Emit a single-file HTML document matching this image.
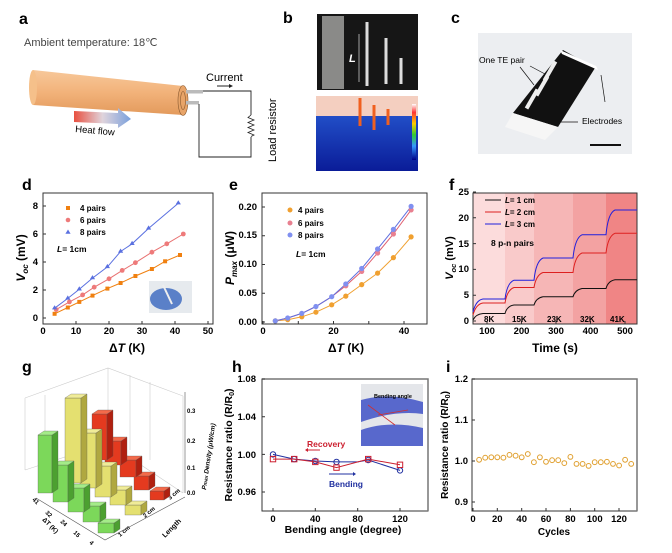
<!DOCTYPE html>
<html><head><meta charset="utf-8"><style>
body{margin:0;background:#fff}
svg{display:block;font-family:"Liberation Sans",Arial,sans-serif}
.b{font-weight:bold}
</style></head><body>
<svg width="672" height="553" viewBox="0 0 672 553" xmlns="http://www.w3.org/2000/svg">
<defs>
<linearGradient id="cyl" x1="0" y1="0" x2="0" y2="1"><stop offset="0" stop-color="#f7c89a"/><stop offset="0.5" stop-color="#f2b27a"/><stop offset="1" stop-color="#e39a5c"/></linearGradient>
<linearGradient id="heat" x1="0" y1="0" x2="1" y2="0"><stop offset="0" stop-color="#e85040"/><stop offset="0.5" stop-color="#e0d4dc"/><stop offset="1" stop-color="#7aa0dc"/></linearGradient>
<linearGradient id="ir" x1="0" y1="0" x2="0" y2="1"><stop offset="0" stop-color="#2a60d8"/><stop offset="1" stop-color="#0a1c98"/></linearGradient>
<linearGradient id="cb" x1="0" y1="0" x2="0" y2="1"><stop offset="0" stop-color="#fff"/><stop offset="0.15" stop-color="#f33"/><stop offset="0.35" stop-color="#fc0"/><stop offset="0.55" stop-color="#3c3"/><stop offset="0.75" stop-color="#39f"/><stop offset="1" stop-color="#008"/></linearGradient>
</defs>
<g class="b" font-size="16">
<text x="19" y="24">a</text><text x="283" y="23">b</text><text x="451" y="23">c</text>
<text x="22" y="190">d</text><text x="229" y="190">e</text><text x="449" y="190">f</text>
<text x="22" y="372">g</text><text x="232" y="372">h</text><text x="446" y="372">i</text>
</g>
<!-- panel a -->
<text x="24" y="46" font-size="11" fill="#444">Ambient temperature: 18℃</text>
<path d="M33 70 L183 86 L183 115 L33 105 Z" fill="url(#cyl)"/>
<ellipse cx="33" cy="87.5" rx="4" ry="17.5" fill="#f5c08a"/>
<ellipse cx="183" cy="100.5" rx="5" ry="15" fill="#e8a468" stroke="#8a5a30" stroke-width="0.6"/>
<ellipse cx="183" cy="100.5" rx="2.5" ry="9" fill="none" stroke="#8a5a30" stroke-width="0.6"/>
<rect x="186" y="90" width="17" height="3.5" fill="#bbb"/><rect x="186" y="101" width="13" height="3.5" fill="#bbb"/>
<path d="M203 91 H251 V115 M251 137 V157 H199 V104" fill="none" stroke="#222" stroke-width="0.9"/>
<path d="M251 115 l-3 2.5 6 2.5 -6 2.5 6 2.5 -6 2.5 6 2.5 -6 2.5 6 2.5 -3 1.5" fill="none" stroke="#222" stroke-width="0.8"/>
<text x="206" y="81" font-size="11">Current</text>
<path d="M217 86 h12" stroke="#222"/><path d="M229 84 l4 2 -4 2z" fill="#222"/>
<text transform="translate(276,162) rotate(-90)" font-size="11">Load resistor</text>
<path d="M74 111 L118 113 L118 108 L131 119 L118 128 L118 124 L74 122 Z" fill="url(#heat)"/>
<text x="75" y="132" font-size="9.5" transform="rotate(5 75 132)">Heat flow</text>
<!-- panel b -->
<rect x="317" y="14" width="101" height="76" fill="#161616"/>
<rect x="322" y="16" width="22" height="73" fill="#8a8a88"/>
<path d="M367 22 V86 M386 38 V84 M401 58 V84" stroke="#ddd" stroke-width="3"/>
<path d="M359 34 V82" stroke="#ddd" stroke-width="0.7"/>
<text x="349" y="62" font-size="11" fill="#fff" font-style="italic" class="b">L</text>
<rect x="316" y="96" width="102" height="75" fill="url(#ir)"/>
<rect x="316" y="96" width="102" height="20" fill="#f4cfc0"/>
<rect x="412" y="104" width="4" height="56" fill="url(#cb)"/>
<path d="M360 98 V126 M374 105 V130 M388 109 V125" stroke="#f06020" stroke-width="3"/>
<!-- panel c -->
<rect x="478" y="33" width="154" height="121" fill="#eceef1"/>
<path d="M563 50 L595 68 L558 127 L513 113 Z" fill="#111"/>
<path d="M513 113 L505 127 L545 140 L558 127Z" fill="#f6f6f6"/>
<path d="M560 50 L596 66 L598 70 L562 54Z" fill="#fff"/>
<g fill="#eee"><rect x="548" y="60" width="4" height="22" transform="rotate(30 550 71)"/><rect x="540" y="75" width="4" height="22" transform="rotate(30 542 86)"/><rect x="530" y="88" width="4" height="22" transform="rotate(30 532 99)"/></g>
<text x="479" y="63" font-size="8.5">One TE pair</text>
<text x="582" y="124" font-size="8.5">Electrodes</text>
<path d="M560 122 H578 M601 75 L605 102 M520 67 L534 85 M530 66 L545 74" stroke="#111" stroke-width="0.7"/>
<rect x="590" y="144" width="31" height="2" fill="#111"/>

<!-- panel d -->
<g font-size="10" class="b">
<rect x="43" y="193" width="170" height="131" fill="none" stroke="#333"/>
<g stroke="#333"><path d="M43 324v-3M76 324v-3M109 324v-3M142 324v-3M175 324v-3M208 324v-3M43 318h3M43 290h3M43 262h3M43 234h3M43 206h3"/></g>
<g font-size="9.5" text-anchor="middle"><text x="43" y="334">0</text><text x="76" y="334">10</text><text x="109" y="334">20</text><text x="142" y="334">30</text><text x="175" y="334">40</text><text x="208" y="334">50</text></g>
<g font-size="9.5" text-anchor="end"><text x="38" y="321">0</text><text x="38" y="293">2</text><text x="38" y="265">4</text><text x="38" y="237">6</text><text x="38" y="209">8</text></g>
<text x="127" y="352" text-anchor="middle" font-size="12">Δ<tspan font-style="italic">T</tspan> (K)</text>
<text transform="translate(25,258) rotate(-90)" text-anchor="middle" font-size="12"><tspan font-style="italic">V</tspan><tspan font-size="8" font-style="italic" dy="3">oc</tspan><tspan dy="-3"> (mV)</tspan></text>
<rect x="149" y="281" width="43" height="32" fill="#e6eaee"/><ellipse cx="166" cy="299" rx="16" ry="11" fill="#5a80c8"/><path d="M163 285 L172 304" stroke="#eee" stroke-width="2"/>
<polyline points="54.6,313.8 67.8,307.5 79.3,301.9 92.5,295.6 107.4,288.6 120.6,283 135.4,276 151.9,269 165.1,261.3 180,255" fill="none" stroke="#f08010"/>
<g fill="#f08010"><rect x="52.6" y="311.8" width="4" height="4"/><rect x="65.8" y="305.5" width="4" height="4"/><rect x="77.3" y="299.9" width="4" height="4"/><rect x="90.5" y="293.6" width="4" height="4"/><rect x="105.4" y="286.6" width="4" height="4"/><rect x="118.6" y="281" width="4" height="4"/><rect x="133.4" y="274" width="4" height="4"/><rect x="149.9" y="267" width="4" height="4"/><rect x="163.1" y="259.3" width="4" height="4"/><rect x="178" y="253" width="4" height="4"/></g>
<polyline points="56.2,309.6 69.4,301.9 82.6,294.9 94.2,287.2 109,278.8 122.2,270.4 135.4,262.7 151.9,252.2 166.8,243.8 183.3,234" fill="none" stroke="#e87070"/>
<g fill="#ee7a7a"><circle cx="56.2" cy="309.6" r="2.4"/><circle cx="69.4" cy="301.9" r="2.4"/><circle cx="82.6" cy="294.9" r="2.4"/><circle cx="94.2" cy="287.2" r="2.4"/><circle cx="109" cy="278.8" r="2.4"/><circle cx="122.2" cy="270.4" r="2.4"/><circle cx="135.4" cy="262.7" r="2.4"/><circle cx="151.9" cy="252.2" r="2.4"/><circle cx="166.8" cy="243.8" r="2.4"/><circle cx="183.3" cy="234" r="2.4"/></g>
<polyline points="54.6,308.2 67.8,298.4 79.3,289.3 92.5,278.1 107.4,266.9 120.6,251.5 132.1,243.8 148.6,228.4 178.3,203.2" fill="none" stroke="#5a70e0"/>
<g fill="#5a70e0"><path d="M54.6 305.2l2.6 4.2h-5.2z M67.8 295.4l2.6 4.2h-5.2z M79.3 286.3l2.6 4.2h-5.2z M92.5 275.1l2.6 4.2h-5.2z M107.4 263.9l2.6 4.2h-5.2z M120.6 248.5l2.6 4.2h-5.2z M132.1 240.8l2.6 4.2h-5.2z M148.6 225.4l2.6 4.2h-5.2z M178.3 200.2l2.6 4.2h-5.2z"/></g>
<g font-size="8"><rect x="66" y="206" width="4" height="4" fill="#f08010"/><text x="80" y="211">4 pairs</text>
<circle cx="68" cy="220" r="2.3" fill="#ee7a7a"/><text x="80" y="223">6 pairs</text>
<path d="M68 229.5l2.6 4.2h-5.2z" fill="#5a70e0"/><text x="80" y="235">8 pairs</text>
<text x="57" y="252" font-size="8.5"><tspan font-style="italic">L</tspan>= 1cm</text></g>
</g>

<!-- panel e -->
<g font-size="10" class="b">
<rect x="262" y="193" width="165" height="131" fill="none" stroke="#333"/>
<g stroke="#333"><path d="M263 324v-3M298.3 324v-3M333.5 324v-3M368.8 324v-3M404 324v-3M262 322h3M262 293.3h3M262 264.5h3M262 235.8h3M262 207h3"/></g>
<g font-size="9.5" text-anchor="middle"><text x="263" y="334">0</text><text x="333.5" y="334">20</text><text x="404" y="334">40</text></g>
<g font-size="9.5" text-anchor="end"><text x="257" y="325">0.00</text><text x="257" y="296">0.05</text><text x="257" y="267">0.10</text><text x="257" y="238">0.15</text><text x="257" y="210">0.20</text></g>
<text x="346" y="352" text-anchor="middle" font-size="12">Δ<tspan font-style="italic">T</tspan> (K)</text>
<text transform="translate(234,258) rotate(-90)" text-anchor="middle" font-size="12"><tspan font-style="italic">P</tspan><tspan font-size="8" font-style="italic" dy="3">max</tspan><tspan dy="-3"> (μW)</tspan></text>
<polyline points="275.3,320.9 287.7,319.7 301.8,316.8 315.9,312.2 331.7,304.8 345.8,296.1 361.7,284.6 377.6,273.1 393.4,257.6 411.1,236.9" fill="none" stroke="#f0a030"/>
<polyline points="275.3,320.9 287.7,318 301.8,313.4 315.9,306.5 331.7,296.7 345.8,285.8 361.7,271.4 377.6,253 393.4,234 411.1,209.9" fill="none" stroke="#e06070"/>
<polyline points="275.3,320.9 287.7,318 301.8,313.4 315.9,306.5 331.7,296.7 345.8,284 361.7,268.5 377.6,249 393.4,229.4 411.1,206.4" fill="none" stroke="#6070e0"/>
<g fill="#f0a030"><circle cx="275.3" cy="320.9" r="2.6"/><circle cx="287.7" cy="319.7" r="2.6"/><circle cx="301.8" cy="316.8" r="2.6"/><circle cx="315.9" cy="312.2" r="2.6"/><circle cx="331.7" cy="304.8" r="2.6"/><circle cx="345.8" cy="296.1" r="2.6"/><circle cx="361.7" cy="284.6" r="2.6"/><circle cx="377.6" cy="273.1" r="2.6"/><circle cx="393.4" cy="257.6" r="2.6"/><circle cx="411.1" cy="236.9" r="2.6"/></g>
<g fill="#e88090"><circle cx="345.8" cy="285.8" r="2.6"/><circle cx="361.7" cy="271.4" r="2.6"/><circle cx="377.6" cy="253" r="2.6"/><circle cx="393.4" cy="234" r="2.6"/><circle cx="411.1" cy="209.9" r="2.6"/></g>
<g fill="#8090f0"><circle cx="275.3" cy="320.9" r="2.6"/><circle cx="287.7" cy="318" r="2.6"/><circle cx="301.8" cy="313.4" r="2.6"/><circle cx="315.9" cy="306.5" r="2.6"/><circle cx="331.7" cy="296.7" r="2.6"/><circle cx="345.8" cy="284" r="2.6"/><circle cx="361.7" cy="268.5" r="2.6"/><circle cx="377.6" cy="249" r="2.6"/><circle cx="393.4" cy="229.4" r="2.6"/><circle cx="411.1" cy="206.4" r="2.6"/></g>
<g font-size="8"><circle cx="290" cy="210" r="2.5" fill="#f0a030"/><text x="298" y="213">4 pairs</text>
<circle cx="290" cy="223" r="2.5" fill="#e88090"/><text x="298" y="226">6 pairs</text>
<circle cx="290" cy="235" r="2.5" fill="#8090f0"/><text x="298" y="238">8 pairs</text>
<text x="296" y="257" font-size="8.5"><tspan font-style="italic">L</tspan>= 1cm</text></g>
</g>

<!-- panel f -->
<g font-size="10" class="b">
<rect x="473" y="193" width="32" height="131" fill="#fcdcdc"/>
<rect x="505" y="193" width="29" height="131" fill="#f9caca"/>
<rect x="534" y="193" width="39" height="131" fill="#f6b6b6"/>
<rect x="573" y="193" width="33" height="131" fill="#f3a2a2"/>
<rect x="606" y="193" width="31" height="131" fill="#f08585"/>
<rect x="473" y="193" width="164" height="131" fill="none" stroke="#333"/>
<g stroke="#333"><path d="M487 324v-3M521.5 324v-3M556 324v-3M590.5 324v-3M625 324v-3M473 321h3M473 295.2h3M473 269.4h3M473 243.6h3M473 217.8h3M473 192h3"/></g>
<g font-size="9.5" text-anchor="middle"><text x="487" y="334">100</text><text x="521.5" y="334">200</text><text x="556" y="334">300</text><text x="590.5" y="334">400</text><text x="625" y="334">500</text></g>
<g font-size="9.5" text-anchor="end"><text x="469" y="324">0</text><text x="469" y="298">5</text><text x="469" y="272">10</text><text x="469" y="247">15</text><text x="469" y="221">20</text><text x="469" y="195">25</text></g>
<text x="555" y="352" text-anchor="middle" font-size="12">Time (s)</text>
<text transform="translate(453,258) rotate(-90)" text-anchor="middle" font-size="11"><tspan font-style="italic">V</tspan><tspan font-size="7.5" font-style="italic" dy="3">oc</tspan><tspan dy="-3"> (mV)</tspan></text>
<path d="M473 320 Q476 314 483 313.5 H505 Q507 306 514 305 H534 Q536 298 543 296.7 H573 Q575 290 582 288.5 H606 Q608 281 615 279.7 H637" fill="none" stroke="#111"/>
<path d="M473 315 Q476 304 483 303 H505 Q507 290 514 287.5 H534 Q536 275 543 272.5 H573 Q575 256 582 253 H606 Q608 236 615 233.3 H637" fill="none" stroke="#dd2020"/>
<path d="M473 312 Q476 300 483 299 H505 Q507 283 514 280.2 H534 Q536 261 543 258 H573 Q575 238 582 234.8 H606 Q608 213 615 210 H637" fill="none" stroke="#2020dd"/>
<g font-size="8"><path d="M485 200h16" stroke="#111"/><text x="505" y="203"><tspan font-style="italic">L</tspan>= 1 cm</text>
<path d="M485 212h16" stroke="#dd2020"/><text x="505" y="215"><tspan font-style="italic">L</tspan>= 2 cm</text>
<path d="M485 224h16" stroke="#2020dd"/><text x="505" y="227"><tspan font-style="italic">L</tspan>= 3 cm</text>
<text x="491" y="246" font-size="8.5">8 p-n pairs</text>
<text x="484" y="322">8K</text><text x="512" y="322">15K</text><text x="547" y="322">23K</text><text x="580" y="322">32K</text><text x="610" y="322">41K</text></g>
</g>

<!-- panel g -->
<g stroke="#ccc" stroke-width="0.6" fill="none">
<path d="M25 398 L108 368 L183 396 M108 368 V443 M25 398 V470 M183 396 V493 M25 470 L108 443 L183 493 M45 395 V468 M130 375 V450 M150 382 V460"/>
</g>
<path d="M185 493 L185 392" stroke="#555" stroke-width="0.6"/>
<g font-size="6" class="b"><text x="187" y="495">0.0</text><text x="187" y="470">0.1</text><text x="187" y="443">0.2</text><text x="187" y="413">0.3</text></g>
<text transform="translate(206,490) rotate(-82)" font-size="6.5" class="b" font-style="italic"><tspan>P</tspan><tspan font-size="5">max</tspan> Density (μW/cm)</text>
<g font-size="6" class="b">
<text transform="translate(32,500) rotate(45)">41</text><text transform="translate(45,513) rotate(45)">32</text><text transform="translate(60,522) rotate(45)">24</text><text transform="translate(73,533) rotate(45)">15</text><text transform="translate(89,543) rotate(45)">4</text>
<text transform="translate(42,520) rotate(45)" font-size="6.5">ΔT (K)</text>
<text transform="translate(120,537) rotate(-40)">1 cm</text><text transform="translate(145,518) rotate(-40)">2 cm</text><text transform="translate(170,500) rotate(-40)">3 cm</text>
<text transform="translate(165,538) rotate(-45)" font-size="7">Length</text>
</g>
<path d="M36 498 L105 540 L185 497" stroke="#555" stroke-width="0.6" fill="none"/>
<g stroke="#555" stroke-width="0.3">
<g><rect x="150" y="491" width="14" height="9" fill="#e43a1f"/><path d="M164 491 l6 -4 v9 l-6 4z" fill="#b02010"/><path d="M150 491 l6 -4 h14 l-6 4z" fill="#f46a4a"/></g>
<g><rect x="134" y="476" width="15" height="14" fill="#e43a1f"/><path d="M149 476 l6 -4 v14 l-6 4z" fill="#b02010"/><path d="M134 476 l6 -4 h15 l-6 4z" fill="#f46a4a"/></g>
<g><rect x="120" y="460" width="16" height="17" fill="#e43a1f"/><path d="M136 460 l6 -4 v17 l-6 4z" fill="#b02010"/><path d="M120 460 l6 -4 h16 l-6 4z" fill="#f46a4a"/></g>
<g><rect x="105" y="441" width="16" height="24" fill="#e43a1f"/><path d="M121 441 l6 -4 v24 l-6 4z" fill="#b02010"/><path d="M105 441 l6 -4 h16 l-6 4z" fill="#f46a4a"/></g>
<g><rect x="92" y="414" width="15" height="46" fill="#e43a1f"/><path d="M107 414 l6 -4 v46 l-6 4z" fill="#b02010"/><path d="M92 414 l6 -4 h15 l-6 4z" fill="#f46a4a"/></g>
<g><rect x="125" y="505" width="16" height="10" fill="#e4e070"/><path d="M141 505 l6 -4 v10 l-6 4z" fill="#b0a840"/><path d="M125 505 l6 -4 h16 l-6 4z" fill="#f0ec98"/></g>
<g><rect x="110" y="490" width="16" height="15" fill="#e4e070"/><path d="M126 490 l6 -4 v15 l-6 4z" fill="#b0a840"/><path d="M110 490 l6 -4 h16 l-6 4z" fill="#f0ec98"/></g>
<g><rect x="95" y="466" width="16" height="31" fill="#e4e070"/><path d="M111 466 l6 -4 v31 l-6 4z" fill="#b0a840"/><path d="M95 466 l6 -4 h16 l-6 4z" fill="#f0ec98"/></g>
<g><rect x="80" y="433" width="16" height="55" fill="#e4e070"/><path d="M96 433 l6 -4 v55 l-6 4z" fill="#b0a840"/><path d="M80 433 l6 -4 h16 l-6 4z" fill="#f0ec98"/></g>
<g><rect x="65" y="398" width="16" height="85" fill="#e4e070"/><path d="M81 398 l6 -4 v85 l-6 4z" fill="#b0a840"/><path d="M65 398 l6 -4 h16 l-6 4z" fill="#f0ec98"/></g>
<g><rect x="98" y="523" width="16" height="10" fill="#7cd85a"/><path d="M114 523 l6 -4 v10 l-6 4z" fill="#4ca030"/><path d="M98 523 l6 -4 h16 l-6 4z" fill="#a4ec88"/></g>
<g><rect x="83" y="506" width="17" height="16" fill="#7cd85a"/><path d="M100 506 l6 -4 v16 l-6 4z" fill="#4ca030"/><path d="M83 506 l6 -4 h17 l-6 4z" fill="#a4ec88"/></g>
<g><rect x="68" y="488" width="16" height="24" fill="#7cd85a"/><path d="M84 488 l6 -4 v24 l-6 4z" fill="#4ca030"/><path d="M68 488 l6 -4 h16 l-6 4z" fill="#a4ec88"/></g>
<g><rect x="53" y="465" width="15" height="37" fill="#7cd85a"/><path d="M68 465 l6 -4 v37 l-6 4z" fill="#4ca030"/><path d="M53 465 l6 -4 h15 l-6 4z" fill="#a4ec88"/></g>
<g><rect x="38" y="435" width="14" height="58" fill="#7cd85a"/><path d="M52 435 l6 -4 v58 l-6 4z" fill="#4ca030"/><path d="M38 435 l6 -4 h14 l-6 4z" fill="#a4ec88"/></g>
</g>

<!-- panel h -->
<g font-size="10" class="b">
<rect x="262" y="379" width="166" height="132" fill="none" stroke="#333"/>
<path d="M262 379 H428 V511" fill="none" stroke="#777" stroke-width="1.5"/>
<g stroke="#333"><path d="M273 511v-3M315.3 511v-3M357.7 511v-3M400 511v-3M262 379h3M262 416.7h3M262 454.4h3M262 492h3"/></g>
<g font-size="9.5" text-anchor="middle"><text x="273" y="522">0</text><text x="315.3" y="522">40</text><text x="357.7" y="522">80</text><text x="400" y="522">120</text></g>
<g font-size="9.5" text-anchor="end"><text x="256" y="382">1.08</text><text x="256" y="420">1.04</text><text x="256" y="458">1.00</text><text x="256" y="495">0.96</text></g>
<text x="343" y="533" text-anchor="middle" font-size="10.5">Bending angle (degree)</text>
<text transform="translate(232,445) rotate(-90)" text-anchor="middle" font-size="10.5">Resistance ratio (R/R<tspan font-size="7" dy="2">0</tspan><tspan dy="-2">)</tspan></text>
<rect x="361" y="384" width="62" height="62" fill="#e4e6ea"/>
<path d="M361 400 Q390 392 423 402 L423 414 Q395 410 361 422Z M361 430 Q390 420 423 428 L423 446 H361Z" fill="#5868cc"/>
<path d="M368 405 L395 425 M378 415 L408 410" stroke="#d03030" stroke-width="0.8"/>
<text x="374" y="398" font-size="5.5">Bending angle</text>
<polyline points="273,454.4 294.2,459.1 315.3,461 336.5,461.9 357.7,461.9 368.2,460 400,470.4" fill="none" stroke="#2030a0"/>
<polyline points="273,459.1 294.2,459.1 315.3,461.9 336.5,467.6 368.2,459.1 400,464.8" fill="none" stroke="#cc2030"/>
<g fill="none" stroke="#2030a0"><circle cx="273" cy="454.4" r="2.7"/><circle cx="294.2" cy="459.1" r="2.7"/><circle cx="315.3" cy="461" r="2.7"/><circle cx="336.5" cy="461.9" r="2.7"/><circle cx="368.2" cy="460" r="2.7"/><circle cx="400" cy="470.4" r="2.7"/></g>
<g fill="none" stroke="#cc2030"><rect x="270.3" y="456.4" width="5.4" height="5.4"/><rect x="291.5" y="456.4" width="5.4" height="5.4"/><rect x="312.6" y="459.2" width="5.4" height="5.4"/><rect x="333.8" y="464.9" width="5.4" height="5.4"/><rect x="365.5" y="456.4" width="5.4" height="5.4"/><rect x="397.3" y="462.1" width="5.4" height="5.4"/></g>
<text x="307" y="447" font-size="8.5" fill="#cc2030">Recovery</text><path d="M308 450h12" stroke="#cc2030"/><path d="M308 448l-3 2 3 2z" fill="#cc2030"/>
<path d="M329 474h24" stroke="#2030a0"/><path d="M353 472l3 2 -3 2z" fill="#2030a0"/><text x="329" y="487" font-size="8.5" fill="#2030a0">Bending</text>
</g>

<!-- panel i -->
<g font-size="10" class="b">
<rect x="472" y="379" width="165" height="132" fill="none" stroke="#333"/>
<path d="M472 379 H637 V511" fill="none" stroke="#777" stroke-width="1.5"/>
<g stroke="#333"><path d="M473 511v-3M497.3 511v-3M521.7 511v-3M546 511v-3M570.4 511v-3M594.7 511v-3M619 511v-3M472 379h3M472 420h3M472 461h3M472 502h3"/></g>
<g font-size="9.5" text-anchor="middle"><text x="473" y="522">0</text><text x="497.3" y="522">20</text><text x="521.7" y="522">40</text><text x="546" y="522">60</text><text x="570.4" y="522">80</text><text x="594.7" y="522">100</text><text x="619" y="522">120</text></g>
<g font-size="9.5" text-anchor="end"><text x="468" y="382">1.2</text><text x="468" y="423">1.1</text><text x="468" y="464">1.0</text><text x="468" y="505">0.9</text></g>
<text x="554" y="535" text-anchor="middle" font-size="10">Cycles</text>
<text transform="translate(448,445) rotate(-90)" text-anchor="middle" font-size="10">Resistance ratio (R/R<tspan font-size="7" dy="2">0</tspan><tspan dy="-2">)</tspan></text>
<g fill="none" stroke="#e0a030" stroke-width="1">
<circle cx="479.1" cy="459.8" r="2.4"/><circle cx="485.2" cy="457.7" r="2.4"/><circle cx="491.3" cy="457.3" r="2.4"/><circle cx="497.3" cy="457.3" r="2.4"/><circle cx="503.4" cy="457.7" r="2.4"/><circle cx="509.5" cy="454.9" r="2.4"/><circle cx="515.6" cy="455.7" r="2.4"/><circle cx="521.7" cy="457.3" r="2.4"/><circle cx="527.8" cy="454" r="2.4"/><circle cx="533.9" cy="462.2" r="2.4"/><circle cx="539.9" cy="457.3" r="2.4"/><circle cx="546" cy="461.8" r="2.4"/><circle cx="552.1" cy="460.2" r="2.4"/><circle cx="558.2" cy="460.2" r="2.4"/><circle cx="564.3" cy="463.1" r="2.4"/><circle cx="570.4" cy="456.9" r="2.4"/><circle cx="576.5" cy="463.9" r="2.4"/><circle cx="582.6" cy="463.9" r="2.4"/><circle cx="588.6" cy="465.9" r="2.4"/><circle cx="594.7" cy="462.2" r="2.4"/><circle cx="600.8" cy="462.2" r="2.4"/><circle cx="606.9" cy="461.8" r="2.4"/><circle cx="613" cy="463.9" r="2.4"/><circle cx="619.1" cy="465.5" r="2.4"/><circle cx="625.1" cy="459.8" r="2.4"/><circle cx="631.2" cy="463.9" r="2.4"/>
</g>
</g>
</svg>
</body></html>
